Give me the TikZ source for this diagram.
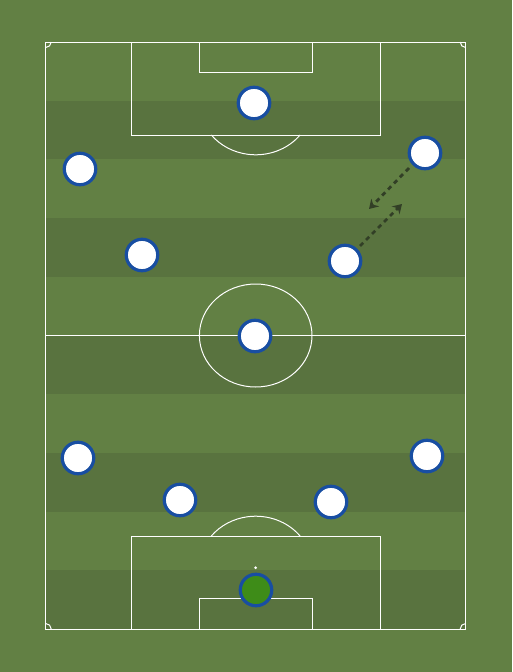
\documentclass[tikz,border=0pt]{standalone}
\usetikzlibrary{arrows.meta,shadows}
\definecolor{grassL}{RGB}{98,128,68}
\definecolor{grassD}{RGB}{89,115,63}
\definecolor{kitblue}{RGB}{24,78,162}
\definecolor{gkgreen}{RGB}{62,140,24}
\definecolor{arrowc}{RGB}{50,63,38}
\tikzset{
  pitchline/.style={draw=white, line width=1pt},
  player/.style={circle, draw=kitblue, line width=3.2pt, fill=white, minimum size=31.5pt, inner sep=0pt,
    drop shadow={shadow xshift=0.6pt, shadow yshift=-1.2pt, opacity=0.3}},
  keeper/.style={player, fill=gkgreen},
  runarrow/.style={draw=arrowc, line width=2.8pt, dash pattern=on 4.5pt off 4pt, -{Stealth[length=9pt,width=11pt,inset=3pt]}}
}
\begin{document}
\begin{tikzpicture}[x=1pt,y=-1pt]
\useasboundingbox (0,0) rectangle (512,672);
\fill[grassL] (0,0) rectangle (512,672);
% stripes
\foreach \i in {1,3,5,7,9} {
  \fill[grassD] (45.7,{42+58.7*\i}) rectangle (465.7,{42+58.7*(\i+1)});
}
% pitch outline
\draw[pitchline] (45.7,42) rectangle (465.7,629);
\draw[pitchline] (45.7,335.5) -- (465.7,335.5);
\draw[pitchline] (255.7,335.5) ellipse [x radius=56.3, y radius=51.5];
% top boxes
\draw[pitchline] (131.3,42) rectangle (380.3,135);
\draw[pitchline] (199.3,42) rectangle (312.3,72.7);
\draw[pitchline] (255.7,103.3) ++(38:56.3 and 51.5) arc[start angle=38, end angle=142, x radius=56.3, y radius=51.5];
% bottom boxes
\draw[pitchline] (131.3,536) rectangle (380.3,629);
\draw[pitchline] (199.3,598.3) rectangle (312.3,629);
\draw[pitchline] (255.7,567.7) ++(-38:56.3 and 51.5) arc[start angle=-38, end angle=-142, x radius=56.3, y radius=51.5];
\fill[white] (255.7,567.7) circle (1.5pt);
% corner arcs
\draw[pitchline] (51.2,42) arc[start angle=0, end angle=90, radius=5.5];
\draw[pitchline] (460.2,42) arc[start angle=180, end angle=90, radius=5.5];
\draw[pitchline] (51.2,629) arc[start angle=0, end angle=-90, radius=5.5];
\draw[pitchline] (460.2,629) arc[start angle=180, end angle=270, radius=5.5];
% run arrows
\coordinate (r1s) at (409,168);
\coordinate (r1e) at (369,209);
\coordinate (r2s) at (360,246);
\coordinate (r2e) at (402,204);
\draw[runarrow] (r1s) -- (r1e);
\draw[runarrow] (r2s) -- (r2e);
% players
\node[player] (p1) at (254,103) {};
\node[player] (p2) at (80,169) {};
\node[player] (p3) at (425,153) {};
\node[player] (p4) at (142,255) {};
\node[player] (p5) at (345,261) {};
\node[player] (p6) at (255,336) {};
\node[player] (p7) at (78,458) {};
\node[player] (p8) at (427,456) {};
\node[player] (p9) at (180,500) {};
\node[player] (p10) at (331,502) {};
\node[keeper] (gk) at (256,590) {};
\end{tikzpicture}
\end{document}
